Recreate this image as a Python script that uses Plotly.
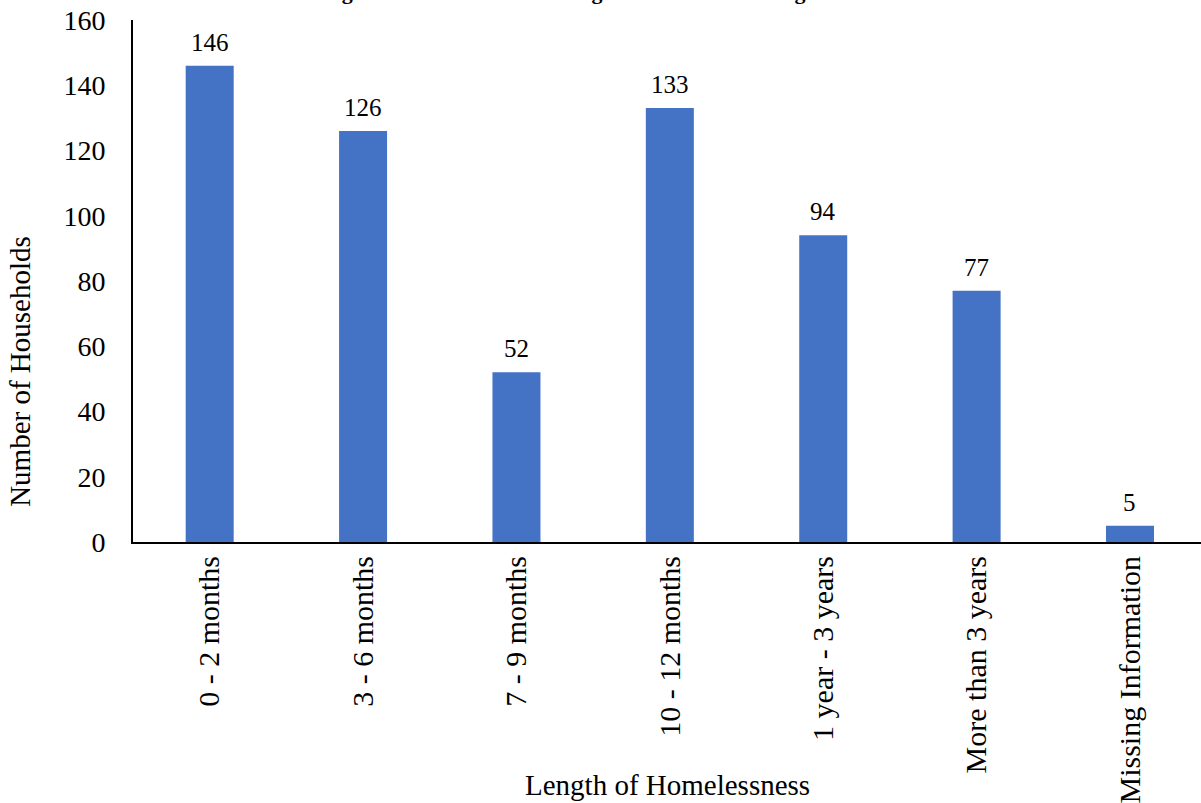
import plotly.graph_objects as go

categories = ["0 - 2 months", "3 - 6 months", "7 - 9 months", "10 - 12 months",
              "1 year - 3 years", "More than 3 years", "Missing Information"]
households = [146, 126, 52, 133, 94, 77, 5]
y_ticks = [0, 20, 40, 60, 80, 100, 120, 140, 160]

FONT = "Liberation Serif, Times New Roman, serif"

fig = go.Figure(go.Bar(
    x=categories, y=households,
    marker=dict(color="#4472C4", line=dict(width=0)),
    width=0.313,
    hoverinfo="x+y",
))

# data labels placed on the data coordinates
for c, v in zip(categories, households):
    fig.add_annotation(
        x=c, y=v, xref="x", yref="y", text=str(v), showarrow=False,
        yanchor="bottom", yshift=8,
        font=dict(family=FONT, size=25, color="black"),
    )

fig.update_layout(
    width=1201, height=803,
    margin=dict(l=133, r=0, t=20, b=261),
    paper_bgcolor="white", plot_bgcolor="white",
    font=dict(family=FONT, size=28, color="black"),
    showlegend=False,
)
fig.update_xaxes(
    type="category", range=[-0.5, 6.463],
    showline=True, linecolor="black", linewidth=2,
    ticks="", tickangle=-90, tickfont=dict(family=FONT, size=30),
    showgrid=False, automargin=False,
)
fig.update_yaxes(
    range=[0, 160], tickvals=y_ticks,
    showline=True, linecolor="black", linewidth=2,
    ticks="", tickfont=dict(family=FONT, size=28), ticklabelstandoff=20,
    showgrid=False, zeroline=False, automargin=False,
)
# y-axis title
fig.add_annotation(
    text="Number of Households", xref="paper", yref="paper", x=0, y=0.326,
    xanchor="center", yanchor="middle", xshift=-113, textangle=-90, showarrow=False,
    font=dict(family=FONT, size=29, color="black"),
)
# x-axis title
fig.add_annotation(
    text="Length of Homelessness", xref="paper", yref="paper", x=0.5, y=0,
    yanchor="middle", yshift=-243, showarrow=False,
    font=dict(family=FONT, size=29, color="black"),
)
# chart title (cut off at the top edge in the reference)
fig.add_annotation(
    text="<b>Length of Homelessness Among Households Entering</b>",
    xref="paper", yref="paper", x=0.396, y=1, yanchor="bottom", yshift=14,
    showarrow=False, font=dict(family=FONT, size=22, color="black"),
)

fig.write_html("out.html", config={"displayModeBar": False},
               post_script="document.body.style.margin='0';")
